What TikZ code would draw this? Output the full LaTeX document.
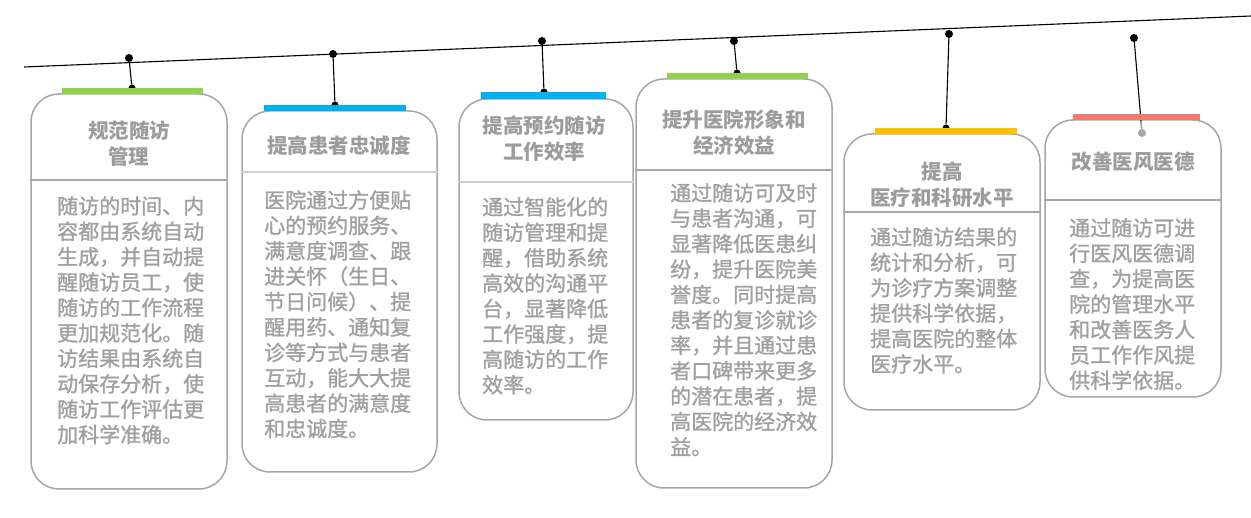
\documentclass[tikz,border=0pt]{standalone}
\usepackage{fontspec}
\newfontfamily\cjk{Noto Sans CJK SC}
\newfontfamily\cjkbody[FakeBold=1.2]{Noto Sans CJK SC}
\usetikzlibrary{positioning, calc}
\definecolor{cardgray}{HTML}{A6A6A6}
\definecolor{lightgray}{HTML}{CFCFCF}
\definecolor{titlegray}{HTML}{9C9C9C}
\definecolor{textgray}{HTML}{A0A0A0}
\definecolor{bargreen}{HTML}{92D050}
\definecolor{barblue}{HTML}{00B0F0}
\definecolor{barorange}{HTML}{FFC000}
\definecolor{barred}{HTML}{F47B6E}

\begin{document}
\begin{tikzpicture}[x=1pt, y=-1pt]
	% Define styles
	\tikzset{
		card/.style={rectangle, draw=cardgray, line width=1.5pt, rounded corners=28pt, fill=white, inner sep=0pt},
		bar/.style={rectangle, inner sep=0pt, minimum height=6pt},
		dot/.style={circle, fill=black, inner sep=0pt, minimum size=8pt},
		tip/.style={circle, fill=black, inner sep=0pt, minimum size=7pt},
		line/.style={draw, line width=1.1pt},
		divider/.style={draw=cardgray, line width=1.5pt},
		title/.style={font=\cjk\bfseries\fontsize{20.5}{26}\selectfont, text=titlegray, align=center},
		body/.style={font=\cjkbody\fontsize{21}{25.4}\selectfont, text=textgray, align=left, anchor=north west, inner sep=0pt}
	}
	\useasboundingbox (0,0) rectangle (1251,518);
	
	% Cards
	\node[card, minimum width=196pt, minimum height=395pt] (b1) at (129,291.5) {};
	\node[card, minimum width=195pt, minimum height=361pt] (b2) at (339.5,291.5) {};
	\node[card, minimum width=174pt, minimum height=321pt] (b3) at (546,259.5) {};
	\node[card, minimum width=196pt, minimum height=409pt] (b4) at (734,283.5) {};
	\node[card, minimum width=196pt, minimum height=276pt] (b5) at (942,272) {};
	\node[card, minimum width=176pt, minimum height=277pt] (b6) at (1133,258.5) {};
	
	% Rope
	\coordinate (l0) at (24,67);
	\coordinate (l1) at (1251,16);
	\draw[line] (l0) -- (l1);
	
	\node[dot] (d1) at (129,58) {};
	\node[dot] (d2) at (333,54) {};
	\node[dot] (d3) at (542,41) {};
	\node[dot] (d4) at (734,41) {};
	\node[dot] (d5) at (949,34) {};
	\node[dot] (d6) at (1134,38) {};
	
	\node[tip] (t1) at (132,88) {};
	\node[tip] (t2) at (335,105) {};
	\node[tip] (t3) at (544,92) {};
	\node[tip] (t4) at (737,73) {};
	\node[tip] (t5) at (946,128) {};
	\node[dot, fill=cardgray] (g6) at (1142,133) {};
	
	% Strings
	\draw[line] (d1) -- (t1);
	\draw[line] (d2) -- (t2);
	\draw[line] (d3) -- (t3);
	\draw[line] (d4) -- (t4);
	\draw[line] (d5) -- (t5);
	\draw[line] (d6) -- (g6);
	
	% Bars
	\node[bar, fill=bargreen, minimum width=141pt] (bar1) at (132.5,91) {};
	\node[bar, fill=barblue, minimum width=142pt] (bar2) at (335,108) {};
	\node[bar, fill=barblue, minimum width=125pt, minimum height=7pt] (bar3) at (543.5,95.5) {};
	\node[bar, fill=bargreen, minimum width=141pt] (bar4) at (737.5,76) {};
	\node[bar, fill=barorange, minimum width=142pt] (bar5) at (946,131) {};
	\node[bar, fill=barred, minimum width=127pt] (bar6) at (1136.5,117.5) {};
	\draw[line, draw=cardgray] ($(d6)!0.87!(g6)$) -- (g6);
	
	% Dividers
	\draw[divider] (b1.west |- 0,180) -- (b1.east |- 0,180);
	\draw[divider, draw=lightgray] (b2.west |- 0,172) -- (b2.east |- 0,172);
	\draw[divider, draw=lightgray] (b3.west |- 0,182) -- (b3.east |- 0,182);
	\draw[divider] (b4.west |- 0,170) -- (b4.east |- 0,170);
	\draw[divider] (b5.west |- 0,212) -- (b5.east |- 0,212);
	\draw[divider] (b6.west |- 0,200) -- (b6.east |- 0,200);
	
	% Titles
	\node[title] (h1) at (129,144) {规范随访\\管理};
	\node[title] (h2) at (339,146) {提高患者忠诚度};
	\node[title] (h3) at (544,139) {提高预约随访\\工作效率};
	\node[title] (h4) at (734,133) {提升医院形象和\\经济效益};
	\node[title] (h5) at (942,185) {提高\\医疗和科研水平};
	\node[title] (h6) at (1133,162) {改善医风医德};
	
	% Texts
	\node[body] (x1) at (57,196) {随访的时间、内\\容都由系统自动\\生成，并自动提\\醒随访员工，使\\随访的工作流程\\更加规范化。随\\访结果由系统自\\动保存分析，使\\随访工作评估更\\加科学准确。};
	\node[body] (x2) at (264,190) {医院通过方便贴\\心的预约服务、\\满意度调查、跟\\进关怀（生日、\\节日问候）、提\\醒用药、通知复\\诊等方式与患者\\互动，能大大提\\高患者的满意度\\和忠诚度。};
	\node[body] (x3) at (482,197) {通过智能化的\\随访管理和提\\醒，借助系统\\高效的沟通平\\台，显著降低\\工作强度，提\\高随访的工作\\效率。};
	\node[body] (x4) at (670,183) {通过随访可及时\\与患者沟通，可\\显著降低医患纠\\纷，提升医院美\\誉度。同时提高\\患者的复诊就诊\\率，并且通过患\\者口碑带来更多\\的潜在患者，提\\高医院的经济效\\益。};
	\node[body] (x5) at (870,227) {通过随访结果的\\统计和分析，可\\为诊疗方案调整\\提供科学依据，\\提高医院的整体\\医疗水平。};
	\node[body] (x6) at (1069,218) {通过随访可进\\行医风医德调\\查，为提高医\\院的管理水平\\和改善医务人\\员工作作风提\\供科学依据。};
	
\end{tikzpicture}
\end{document}
